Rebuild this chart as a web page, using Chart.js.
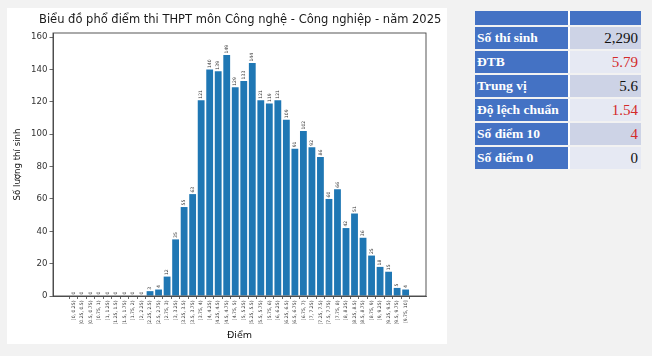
<!DOCTYPE html>
<html>
<head>
<meta charset="utf-8">
<script src="https://cdn.jsdelivr.net/npm/chart.js@4/dist/chart.umd.min.js"></script>
<style>
  html, body { margin: 0; padding: 0; }
  body { width: 652px; height: 356px; background: #f2f2f2; position: relative; overflow: hidden; font-family: "DejaVu Sans", sans-serif; }
  #panel { position: absolute; left: 7px; top: 8px; width: 440px; height: 336px; background: #ffffff; }
  #wrap { position: absolute; left: 8px; top: 8px; width: 463px; height: 336px; }
  #title { position: absolute; left: 39px; width: 401px; top: 12px; text-align: center; font-family: "DejaVu Sans", sans-serif; font-size: 11.5px; line-height: 14px; color: #1a1a1a; white-space: nowrap; }
  #stats { position: absolute; left: 475px; top: 9px; width: 166px; border-collapse: separate; border-spacing: 0 2px; font-family: "Liberation Serif", "Times New Roman", serif; }
  #stats td { padding: 0 3px; height: 22px; line-height: 22px; }
  #stats tr.head td { height: 14px; line-height: 14px; background: #4472c4; }
  #stats td.k { background: #4472c4; color: #fff; font-weight: bold; font-size: 13.5px; width: 88px; border-right: 2px solid #fff; padding-left: 2px; white-space: nowrap; }
  #stats td.v { text-align: right; font-size: 15px; color: #111; }
  #stats tr.odd td.v { background: #cdd3e6; }
  #stats tr.even td.v { background: #e6e9f3; }
  #stats td.red { color: #d42a2a; }
</style>
</head>
<body>
<div id="panel"></div>
<div id="wrap"><canvas id="c" width="463" height="336"></canvas></div>
<div id="title">Biểu đồ phổ điểm thi THPT môn Công nghệ - Công nghiệp - năm 2025</div>
<table id="stats"><tbody id="tb"></tbody></table>
<script>
const categories = ["[0, 0.25)","[0.25, 0.5)","[0.5, 0.75)","[0.75, 1)","[1, 1.25)","[1.25, 1.5)","[1.5, 1.75)","[1.75, 2)","[2, 2.25)","[2.25, 2.5)","[2.5, 2.75)","[2.75, 3)","[3, 3.25)","[3.25, 3.5)","[3.5, 3.75)","[3.75, 4)","[4, 4.25)","[4.25, 4.5)","[4.5, 4.75)","[4.75, 5)","[5, 5.25)","[5.25, 5.5)","[5.5, 5.75)","[5.75, 6)","[6, 6.25)","[6.25, 6.5)","[6.5, 6.75)","[6.75, 7)","[7, 7.25)","[7.25, 7.5)","[7.5, 7.75)","[7.75, 8)","[8, 8.25)","[8.25, 8.5)","[8.5, 8.75)","[8.75, 9)","[9, 9.25)","[9.25, 9.5)","[9.5, 9.75)","[9.75, 10]"];
const counts = [0,0,0,0,0,0,0,0,0,3,4,12,35,55,63,121,140,139,149,129,133,144,121,119,121,109,91,102,92,86,60,66,42,51,36,25,18,15,5,4];
const yTicks = [0,20,40,60,80,100,120,140,160];
const statLabels = ["Số thí sinh","ĐTB","Trung vị","Độ lệch chuẩn","Số điểm 10","Số điểm 0"];
const statValues = ["2,290","5.79","5.6","1.54","4","0"];
const statRed = [false,true,false,true,true,false];

const tb = document.getElementById('tb');
tb.innerHTML = '<tr class="head"><td class="k"></td><td class="v" style="background:#4472c4"></td></tr>' +
  statLabels.map((l,i)=>`<tr class="${i%2===0?'odd':'even'}"><td class="k">${l}</td><td class="v${statRed[i]?' red':''}">${statValues[i]}</td></tr>`).join('');

const frameAndLabels = {
  id: 'frameAndLabels',
  afterDatasetsDraw(chart) {
    const ctx = chart.ctx;
    const meta = chart.getDatasetMeta(0);
    ctx.save();
    ctx.fillStyle = '#333';
    ctx.font = '4.6px "DejaVu Sans"';
    ctx.textAlign = 'left';
    ctx.textBaseline = 'middle';
    meta.data.forEach((bar, i) => {
      ctx.save();
      ctx.translate(bar.x, bar.y - 1.5);
      ctx.rotate(-Math.PI / 2);
      ctx.fillText(String(counts[i]), 0, 0);
      ctx.restore();
    });
    ctx.restore();
  },
  afterDraw(chart) {
    const a = chart.chartArea;
    const ctx = chart.ctx;
    ctx.save();
    ctx.strokeStyle = '#444';
    ctx.lineWidth = 0.9;
    ctx.strokeRect(a.left, a.top, a.right - a.left, a.bottom - a.top);
    ctx.restore();
  }
};

new Chart(document.getElementById('c'), {
  type: 'bar',
  data: {
    datasets: [{
      data: counts.map((v, i) => ({ x: i, y: v })),
      backgroundColor: '#1f77b4',
      borderWidth: 0,
      barPercentage: 0.8,
      categoryPercentage: 1.0
    }]
  },
  options: {
    responsive: false,
    animation: false,
    devicePixelRatio: 1,
    layout: { padding: { left: 0, right: 45, top: 25, bottom: 0 } },
    plugins: {
      legend: { display: false },
      tooltip: { enabled: false },
      title: { display: false }
    },
    scales: {
      x: {
        type: 'linear',
        min: -2.39,
        max: 41.39,
        offset: false,
        afterBuildTicks(scale) { scale.ticks = categories.map((_, i) => ({ value: i })); },
        afterFit(scale) { scale.height = 48; },
        border: { display: true, color: '#444', width: 0.9 },
        grid: { display: true, drawOnChartArea: false, drawTicks: true, tickLength: 3, color: '#444', lineWidth: 0.8 },
        ticks: {
          autoSkip: false,
          minRotation: 90,
          maxRotation: 90,
          padding: 1.5,
          color: '#333',
          font: { family: 'DejaVu Sans', size: 4.6 },
          callback: (v) => categories[v] ?? ''
        },
        title: {
          display: true,
          text: 'Điểm',
          color: '#111',
          font: { family: 'DejaVu Sans', size: 9.5 },
          padding: { top: 0, bottom: 3 }
        }
      },
      y: {
        min: 0,
        max: 162.6,
        afterBuildTicks(scale) { scale.ticks = yTicks.map(v => ({ value: v })); },
        afterFit(scale) { scale.width = 45; },
        border: { display: true, color: '#444', width: 0.9 },
        grid: { display: true, drawOnChartArea: false, drawTicks: true, tickLength: 3.5, color: '#444', lineWidth: 0.8 },
        ticks: {
          padding: 2,
          color: '#333',
          font: { family: 'DejaVu Sans', size: 8.6 }
        },
        title: {
          display: true,
          text: 'Số lượng thí sinh',
          color: '#111',
          font: { family: 'DejaVu Sans', size: 8.6 },
          padding: { top: 5, bottom: 2 }
        }
      }
    }
  },
  plugins: [frameAndLabels]
});
</script>
</body>
</html>
